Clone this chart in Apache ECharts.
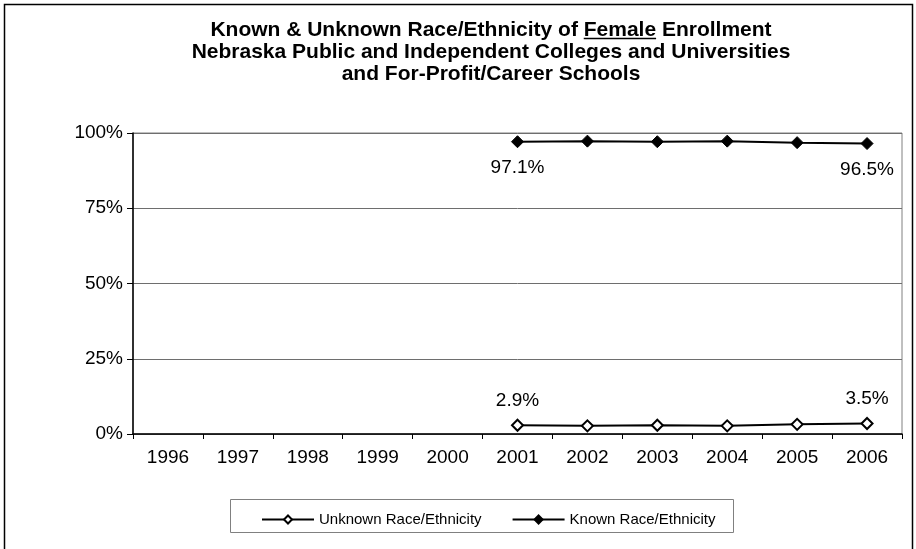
<!DOCTYPE html>
<html>
<head>
<meta charset="utf-8">
<script src="https://cdn.jsdelivr.net/npm/echarts@6/dist/echarts.min.js"></script>
<style>html,body{margin:0;padding:0;background:#fff}#c{width:916px;height:549px}</style>
</head>
<body>
<div id="c"></div>
<script>
const years = ['1996','1997','1998','1999','2000','2001','2002','2003','2004','2005','2006'];
const unknownPct = [null, null, null, null, null, 2.9, 2.7, 2.9, 2.7, 3.2, 3.5];
const knownPct = [null, null, null, null, null, 97.1, 97.3, 97.1, 97.3, 96.8, 96.5];
const yTicks = [0, 25, 50, 75, 100];
const seriesNames = ['Unknown Race/Ethnicity', 'Known Race/Ethnicity'];
const titleLines = [
  'Known & Unknown Race/Ethnicity of Female Enrollment',
  'Nebraska Public and Independent Colleges and Universities',
  'and For-Profit/Career Schools'
];
const underlined = 'Female';

const font = 'Arial, "Liberation Sans", sans-serif';
const titleFont = 'bold 21px ' + font;
const chart = echarts.init(document.getElementById('c'), null, {renderer: 'canvas'});

// measure the underlined word's position in the first title line
const ctx = document.createElement('canvas').getContext('2d');
ctx.font = titleFont;
const line1W = ctx.measureText(titleLines[0]).width;
const preW = ctx.measureText(titleLines[0].slice(0, titleLines[0].indexOf(underlined))).width;
const wordW = ctx.measureText(underlined).width;
const titleCenter = 491;
const ulX1 = titleCenter - line1W / 2 + preW;
const ulX2 = ulX1 + wordW;

function edgeLabel(p) {
  const first = knownPct.findIndex(v => v != null);
  const last = knownPct.length - 1;
  return (p.dataIndex === first || p.dataIndex === last) ? p.value.toFixed(1) + '%' : '';
}

chart.setOption({
  animation: false,
  title: {
    text: titleLines.join('\n'),
    left: 486, top: 14, textAlign: 'center',
    textStyle: {fontFamily: font, fontSize: 21, fontWeight: 'bold', color: '#000', lineHeight: 22}
  },
  graphic: [
    {type: 'rect', shape: {x: 4.5, y: 4.5, width: 908, height: 560}, style: {fill: 'none', stroke: '#000', lineWidth: 1.5}, silent: true},
    {type: 'rect', shape: {x: 230.5, y: 499.5, width: 503, height: 33}, style: {fill: 'none', stroke: '#808080', lineWidth: 1}, silent: true},
    {type: 'line', shape: {x1: ulX1, y1: 38.5, x2: ulX2, y2: 38.5}, style: {stroke: '#000', lineWidth: 1.5}, silent: true}
  ],
  grid: {left: 133, right: 14, top: 133, bottom: 115, show: true, borderColor: '#808080', borderWidth: 1, containLabel: false},
  legend: {
    data: seriesNames,
    left: 256, top: 507,
    itemWidth: 52, itemHeight: 10, itemGap: 30,
    textStyle: {fontFamily: font, fontSize: 15, color: '#000'}
  },
  xAxis: {
    type: 'category', data: years, boundaryGap: true,
    axisLine: {lineStyle: {color: '#000', width: 1.5}},
    axisTick: {show: true, alignWithLabel: false, length: 5, lineStyle: {color: '#000'}},
    axisLabel: {fontFamily: font, fontSize: 19, color: '#000', margin: 14},
    splitLine: {show: false}
  },
  yAxis: {
    type: 'value', min: 0, max: 100, interval: 25,
    axisLine: {show: true, lineStyle: {color: '#000', width: 1.5}},
    axisTick: {show: true, length: 6, lineStyle: {color: '#000'}},
    axisLabel: {fontFamily: font, fontSize: 19, color: '#000', margin: 10,
      formatter: v => yTicks.includes(v) ? v + '%' : ''},
    splitLine: {show: true, lineStyle: {color: '#6e6e6e', width: 1}}
  },
  series: [
    {
      name: seriesNames[0], type: 'line', data: unknownPct,
      symbol: 'diamond', symbolSize: 11, showAllSymbol: true,
      lineStyle: {color: '#000', width: 2},
      itemStyle: {color: '#fff', borderColor: '#000', borderWidth: 2},
      label: {show: true, position: 'top', distance: 9, formatter: edgeLabel,
        fontFamily: font, fontSize: 19, color: '#000'}
    },
    {
      name: seriesNames[1], type: 'line', data: knownPct,
      symbol: 'diamond', symbolSize: 12, showAllSymbol: true,
      lineStyle: {color: '#000', width: 2},
      itemStyle: {color: '#000', borderColor: '#000', borderWidth: 1},
      label: {show: true, position: 'bottom', distance: 10, formatter: edgeLabel,
        fontFamily: font, fontSize: 19, color: '#000'}
    }
  ]
});
</script>
</body>
</html>
